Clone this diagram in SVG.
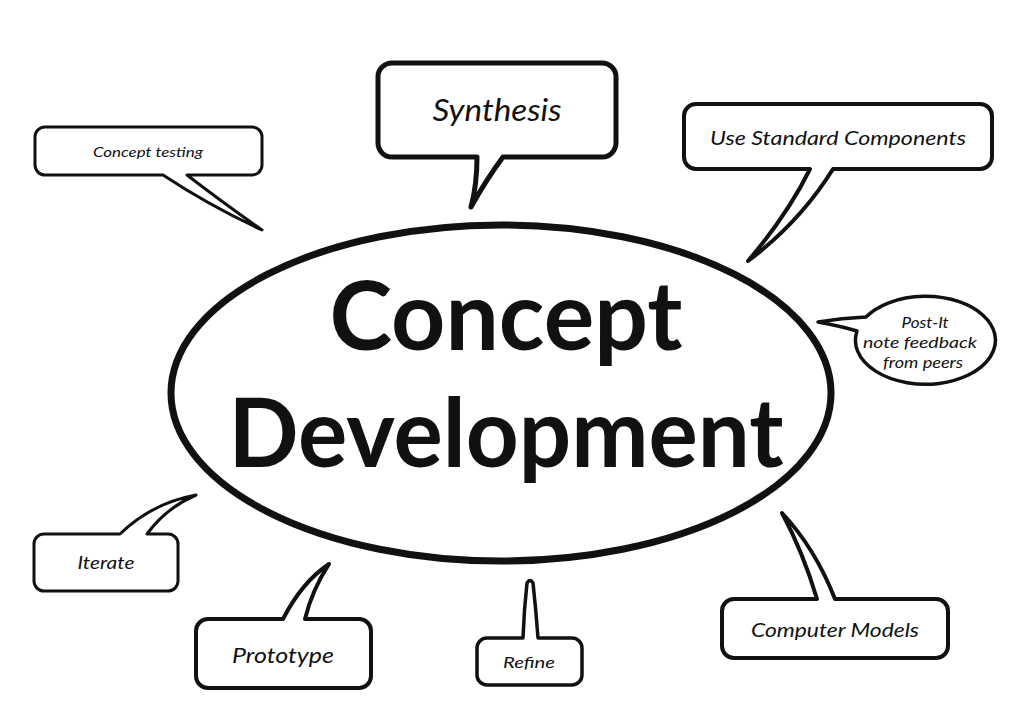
<svg xmlns="http://www.w3.org/2000/svg" width="1024" height="724" viewBox="0 0 1024 724">
<style>
.b{fill:#fff;stroke:#111;stroke-linejoin:round}
.t{font-family:Lato,"Liberation Sans",sans-serif;font-style:italic;fill:#111;text-anchor:middle}
.c{font-family:Lato,"Liberation Sans",sans-serif;font-weight:bold;fill:#111;text-anchor:middle}
</style>
<rect width="1024" height="724" fill="#fff"/>
<g id="center">
<ellipse cx="501" cy="393" rx="330" ry="168" fill="#fff" stroke="#111" stroke-width="7"/>
<text class="c" x="506" y="350" font-size="96" textLength="353" lengthAdjust="spacingAndGlyphs">Concept</text>
<text class="c" x="506" y="467" font-size="96" textLength="555" lengthAdjust="spacingAndGlyphs">Development</text>
</g>
<g id="concept-testing">
<path class="b" stroke-width="3" d="M45,127 H252 A10,10 0 0 1 262,137 V165 A10,10 0 0 1 252,175 H187 Q222,202 262,230 Q210,206 163,175 H45 A10,10 0 0 1 35,165 V137 A10,10 0 0 1 45,127 Z"/>
<text class="t" x="148" y="157" font-size="14" textLength="110" lengthAdjust="spacingAndGlyphs">Concept testing</text>
</g>
<g id="synthesis">
<path class="b" stroke-width="5" d="M392,63 H602 A14,14 0 0 1 616,77 V143 A14,14 0 0 1 602,157 H503 Q486,180 471,207 Q477,185 477,157 H392 A14,14 0 0 1 378,143 V77 A14,14 0 0 1 392,63 Z"/>
<text class="t" x="497" y="121" font-size="30" textLength="129" lengthAdjust="spacingAndGlyphs">Synthesis</text>
</g>
<g id="standard-components">
<path class="b" stroke-width="4" d="M696,104 H980 A12,12 0 0 1 992,116 V157 A12,12 0 0 1 980,169 H833 Q800,222 748,261 Q788,214 810,169 H696 A12,12 0 0 1 684,157 V116 A12,12 0 0 1 696,104 Z"/>
<text class="t" x="838" y="145" font-size="20" textLength="256" lengthAdjust="spacingAndGlyphs">Use Standard Components</text>
</g>
<g id="post-it">
<path class="b" stroke-width="3.5" d="M857,331 Q840,326 818,322 Q842,318 866,317 A70,44 0 1 1 857,331 Z"/>
<text class="t" font-size="16"><tspan x="925" y="328" textLength="47" lengthAdjust="spacingAndGlyphs">Post-It</tspan></text>
<text class="t" font-size="16"><tspan x="920" y="348" textLength="114" lengthAdjust="spacingAndGlyphs">note feedback</tspan></text>
<text class="t" font-size="16"><tspan x="923" y="368" textLength="80" lengthAdjust="spacingAndGlyphs">from peers</tspan></text>
</g>
<g id="iterate">
<path class="b" stroke-width="3" d="M44,534 H120 Q152,503 196,495 Q166,508 147,534 H168 A10,10 0 0 1 178,544 V581 A10,10 0 0 1 168,591 H44 A10,10 0 0 1 34,581 V544 A10,10 0 0 1 44,534 Z"/>
<text class="t" x="106" y="569" font-size="17" textLength="57" lengthAdjust="spacingAndGlyphs">Iterate</text>
</g>
<g id="prototype">
<path class="b" stroke-width="4" d="M208,619 H283 Q302,582 329,564 Q312,590 305,619 H359 A12,12 0 0 1 371,631 V676 A12,12 0 0 1 359,688 H208 A12,12 0 0 1 196,676 V631 A12,12 0 0 1 208,619 Z"/>
<text class="t" x="283" y="663" font-size="22" textLength="102" lengthAdjust="spacingAndGlyphs">Prototype</text>
</g>
<g id="refine">
<path class="b" stroke-width="3.5" d="M487,638 H523 Q524,610 527,583 Q530,578 533,583 Q536,610 538,638 H572 A10,10 0 0 1 582,648 V675 A10,10 0 0 1 572,685 H487 A10,10 0 0 1 477,675 V648 A10,10 0 0 1 487,638 Z"/>
<text class="t" x="529" y="668" font-size="16" textLength="52" lengthAdjust="spacingAndGlyphs">Refine</text>
</g>
<g id="computer-models">
<path class="b" stroke-width="4" d="M734,599 H817 Q803,552 782,513 Q815,548 835,599 H936 A12,12 0 0 1 948,611 V646 A12,12 0 0 1 936,658 H734 A12,12 0 0 1 722,646 V611 A12,12 0 0 1 734,599 Z"/>
<text class="t" x="835" y="637" font-size="20" textLength="168" lengthAdjust="spacingAndGlyphs">Computer Models</text>
</g>
</svg>
